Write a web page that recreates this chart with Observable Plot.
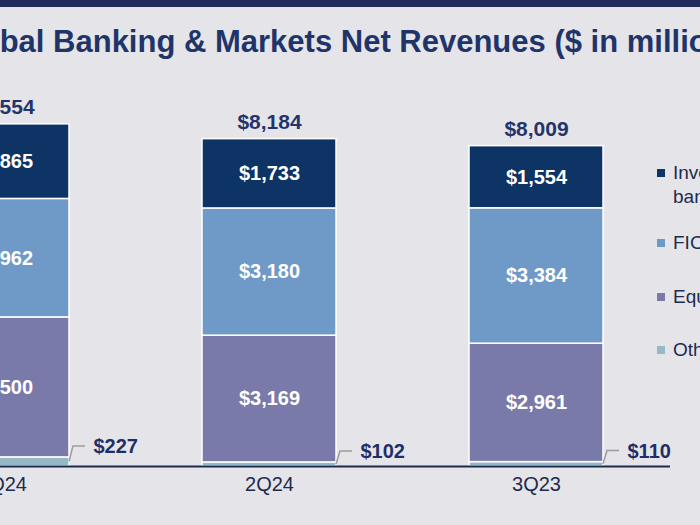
<!DOCTYPE html>
<html>
<head>
<meta charset="utf-8">
<script src="https://cdn.jsdelivr.net/npm/d3@7"></script>
<script src="https://cdn.jsdelivr.net/npm/@observablehq/plot@0.6"></script>
<style>
  html, body { margin: 0; padding: 0; background: #e5e5e9; }
  #page { position: relative; width: 700px; height: 525px; overflow: hidden; background: #e5e5e9; font-family: "Liberation Sans", Arial, sans-serif; }
  #band { position: absolute; left: 0; top: 0; width: 700px; height: 7px; background: #1f2c5c; }
  #title { position: absolute; left: -52px; top: 24px; white-space: nowrap; font-weight: bold; font-size: 31px; line-height: 36px; color: #1f3468; }
  #chart { position: absolute; left: -200px; top: 0; width: 1000px; height: 525px; }
  #chart svg { max-width: none !important; }
  #legend { position: absolute; left: 0; top: 0; width: 700px; height: 525px; pointer-events: none; }
  .item { position: absolute; left: 657px; font-size: 19px; line-height: 24px; color: #1d2b4c; white-space: nowrap; }
  .sw { position: absolute; left: 0; top: 8px; width: 8px; height: 8px; }
  .lab { position: absolute; left: 16px; top: 0; }
</style>
</head>
<body>
<div id="page">
  <div id="band"></div>
  <div id="title">Global Banking &amp; Markets Net Revenues ($ in millions)</div>
  <div id="chart"></div>
  <div id="legend"></div>
</div>
<script>
// ---- data ----
const quarters = ["1Q24", "2Q24", "3Q23"];
const seriesNames = ["Other", "Equities", "FICC", "Investment banking"]; // bottom to top
const legendNames = ["Investment banking", "FICC", "Equities", "Other"];
const investmentBanking = [1865, 1733, 1554];
const ficc = [2962, 3180, 3384];
const equities = [3500, 3169, 2961];
const other = [227, 102, 110];
const totals = [8554, 8184, 8009];
const seriesColors = ["#95b9c4", "#7a7aaa", "#6f99c7", "#0e3465"];

// ---- build table ----
const valuesBySeries = {"Other": other, "Equities": equities, "FICC": ficc, "Investment banking": investmentBanking};
const rows = [];
quarters.forEach((q, i) => {
  seriesNames.forEach(s => rows.push({quarter: q, series: s, value: valuesBySeries[s][i]}));
});
const totalRows = quarters.map((q, i) => ({quarter: q, total: totals[i]}));
const otherRows = quarters.map((q, i) => ({quarter: q, value: other[i]}));
const fmt = v => "$" + d3.format(",")(v);

const font = "'Liberation Sans', Arial, sans-serif";

const leaders = (index, scales) => {
  const g = d3.create("svg:g").attr("fill", "none").attr("stroke", "#9c9c9c").attr("stroke-width", 1.5);
  const bw = scales.x.bandwidth ? scales.x.bandwidth() : 0;
  otherRows.forEach(d => {
    const xr = scales.x(d.quarter) + bw;
    const ym = scales.y(d.value / 2);
    const yl = scales.y(d.value) - 11;
    g.append("path").attr("d", `M${xr},${ym}L${xr + 4},${yl}L${xr + 16},${yl}`);
  });
  return g.node();
};

const chart = Plot.plot({
  width: 1000,
  height: 525,
  marginLeft: 0,
  marginRight: 130,
  marginTop: 66,
  marginBottom: 59,
  style: {background: "transparent", fontFamily: font, overflow: "visible", maxWidth: "none"},
  x: {domain: quarters, range: [1.75, 936.25], padding: 0.5, axis: null},
  y: {domain: [0, 10000], axis: null},
  color: {domain: seriesNames, range: seriesColors},
  marks: [
    Plot.barY(rows, {x: "quarter", y: "value", fill: "series", stroke: "white", strokeWidth: 1.5}),
    Plot.text(rows, Plot.stackY({
      x: "quarter", y: "value",
      text: d => d.series === "Other" ? "" : fmt(d.value),
      fill: "white", fontWeight: "bold", fontSize: 20
    })),
    Plot.text(totalRows, {x: "quarter", y: "total", text: d => fmt(d.total), dy: -17, fill: "#24346a", fontWeight: "bold", fontSize: 21}),
    Plot.ruleY([0], {stroke: "#1b2b4d", strokeWidth: 2}),
    Plot.text(quarters, {x: d => d, frameAnchor: "bottom", dy: 24, text: d => d, fontSize: 20, fill: "#1d2b4c"}),
    Plot.text(otherRows, {x: "quarter", y: "value", text: d => fmt(d.value), dx: 91, dy: -11, textAnchor: "start", fill: "#1f2f66", fontWeight: "bold", fontSize: 20}),
    leaders
  ]
});
document.getElementById("chart").appendChild(chart);

// ---- legend ----
const legendTops = [161, 231, 285, 338];
const legend = document.getElementById("legend");
legendNames.forEach((name, i) => {
  const item = document.createElement("div");
  item.className = "item";
  item.style.top = legendTops[i] + "px";
  const sw = document.createElement("div");
  sw.className = "sw";
  sw.style.background = seriesColors[seriesNames.indexOf(name)];
  const lab = document.createElement("div");
  lab.className = "lab";
  if (name === "Investment banking") { lab.innerHTML = "Investment<br>banking"; } else { lab.textContent = name; }
  item.appendChild(sw);
  item.appendChild(lab);
  legend.appendChild(item);
});
</script>
</body>
</html>
